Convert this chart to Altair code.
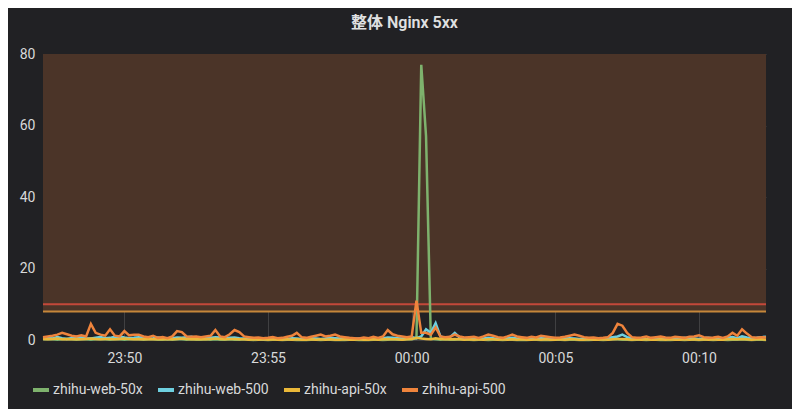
import altair as alt
import pandas as pd

series_names = ["zhihu-web-50x", "zhihu-web-500", "zhihu-api-50x", "zhihu-api-500"]
series_colors = ["#7eb26d", "#6ed0e0", "#eab839", "#ef843c"]

# samples every 10 s starting 23:47:10
web_50x = [
    0.2, 0.3, 0.2, 0.1, 0.2, 0.3, 0.2, 0.1, 0.2, 0.2,
    0.1, 0.2, 0.3, 0.2, 0.1, 0.2, 0.2, 0.1, 0.2, 0.3,
    0.2, 0.1, 0.2, 0.2, 0.1, 0.1, 0.2, 0.1, 0.2, 0.2,
    0.1, 0.2, 0.1, 0.1, 0.2, 0.1, 0.2, 0.1, 0.1, 0.2,
    0.1, 0.1, 0.2, 0.1, 0.0, 0.1, 0.1, 0.0, 0.1, 0.1,
    0.0, 0.1, 0.1, 0.0, 0.1, 0.0, 0.1, 0.1, 0.0, 0.1,
    0.1, 0.0, 0.1, 0.0, 0.1, 0.1, 0.0, 0.1, 0.0, 0.1,
    0.1, 0.0, 0.1, 0.2, 0.1, 0.1, 0.2, 0.2, 0.5, 77.0,
    57.0, 0.3, 0.2, 0.1, 0.2, 0.1, 0.1, 0.2, 0.1, 0.1,
    0.0, 0.1, 0.1, 0.0, 0.1, 0.1, 0.0, 0.1, 0.1, 0.0,
    0.1, 0.0, 0.1, 0.1, 0.0, 0.1, 0.0, 0.1, 0.1, 0.0,
    0.1, 0.1, 0.0, 0.1, 0.0, 0.1, 0.1, 0.0, 0.1, 0.2,
    0.2, 0.1, 0.1, 0.0, 0.1, 0.1, 0.0, 0.1, 0.1, 0.0,
    0.1, 0.0, 0.1, 0.1, 0.0, 0.1, 0.1, 0.0, 0.1, 0.1,
    0.0, 0.1, 0.1, 0.0, 0.1, 0.1, 0.2, 0.1, 0.0, 0.1,
    0.1, 0.0,
]

web_500 = [
    0.5, 0.6, 0.4, 0.8, 0.5, 0.3, 0.6, 0.9, 0.7, 0.5,
    0.4, 0.6, 0.8, 0.5, 0.6, 0.9, 1.0, 0.7, 0.5, 0.6,
    0.8, 0.6, 0.4, 0.5, 0.7, 0.5, 0.3, 0.5, 0.7, 0.6,
    0.8, 0.9, 0.6, 0.4, 0.5, 0.6, 0.8, 0.7, 0.5, 0.6,
    0.7, 0.5, 0.4, 0.3, 0.4, 0.3, 0.2, 0.3, 0.4, 0.3,
    0.2, 0.3, 0.5, 0.4, 0.3, 0.4, 0.5, 0.4, 0.3, 0.4,
    0.6, 0.5, 0.4, 0.3, 0.2, 0.3, 0.4, 0.3, 0.5, 0.4,
    0.3, 0.5, 0.7, 0.6, 0.5, 0.4, 0.6, 0.8, 0.5, 1.0,
    3.0, 2.0, 4.7, 1.0, 0.6, 0.8, 2.0, 0.7, 0.5, 0.4,
    0.3, 0.5, 0.4, 0.6, 0.5, 0.3, 0.4, 0.5, 0.6, 0.4,
    0.3, 0.2, 0.3, 0.4, 0.5, 0.4, 0.3, 0.2, 0.3, 0.4,
    0.5, 0.4, 0.3, 0.4, 0.3, 0.2, 0.3, 0.4, 0.6, 0.8,
    1.0, 1.5, 0.8, 0.5, 0.3, 0.4, 0.3, 0.5, 0.4, 0.3,
    0.4, 0.5, 0.3, 0.4, 0.6, 0.5, 0.4, 0.3, 0.5, 0.6,
    0.4, 0.3, 0.5, 0.6, 0.8, 0.5, 1.0, 0.7, 0.5, 0.6,
    0.8, 0.9,
]

api_50x = [
    0.3, 0.2, 0.3, 0.4, 0.2, 0.3, 0.2, 0.3, 0.2, 0.3,
    0.4, 0.3, 0.2, 0.3, 0.3, 0.2, 0.3, 0.4, 0.3, 0.2,
    0.3, 0.2, 0.3, 0.2, 0.2, 0.3, 0.2, 0.2, 0.3, 0.4,
    0.3, 0.2, 0.3, 0.2, 0.2, 0.3, 0.4, 0.3, 0.2, 0.3,
    0.3, 0.2, 0.2, 0.1, 0.2, 0.1, 0.2, 0.1, 0.2, 0.1,
    0.1, 0.2, 0.1, 0.2, 0.1, 0.1, 0.2, 0.1, 0.2, 0.1,
    0.2, 0.1, 0.1, 0.2, 0.1, 0.1, 0.2, 0.1, 0.1, 0.2,
    0.1, 0.2, 0.3, 0.2, 0.2, 0.1, 0.2, 0.3, 0.6, 0.4,
    0.3, 0.2, 0.5, 0.3, 0.2, 0.2, 0.3, 0.2, 0.1, 0.2,
    0.1, 0.2, 0.1, 0.2, 0.2, 0.1, 0.2, 0.1, 0.2, 0.1,
    0.2, 0.1, 0.1, 0.2, 0.1, 0.2, 0.1, 0.1, 0.2, 0.1,
    0.2, 0.2, 0.1, 0.1, 0.2, 0.1, 0.1, 0.2, 0.1, 0.2,
    0.3, 0.3, 0.2, 0.1, 0.2, 0.1, 0.2, 0.1, 0.1, 0.2,
    0.1, 0.2, 0.1, 0.1, 0.2, 0.1, 0.2, 0.1, 0.2, 0.1,
    0.2, 0.1, 0.1, 0.2, 0.3, 0.2, 0.3, 0.2, 0.1, 0.2,
    0.2, 0.1,
]

api_500 = [
    0.8, 1.0, 1.2, 1.5, 2.0, 1.6, 1.2, 1.0, 1.3, 1.0,
    4.5, 2.0, 1.5, 1.2, 3.0, 1.2, 1.0, 2.5, 1.3, 1.5,
    1.5, 1.0, 0.8, 1.2, 0.6, 0.8, 0.5, 1.0, 2.5, 2.2,
    1.0, 0.9, 1.0, 0.8, 1.0, 1.2, 2.8, 1.0, 0.8, 1.6,
    2.8, 2.2, 1.0, 0.8, 0.6, 0.7, 0.5, 0.6, 0.8, 0.5,
    0.6, 0.9, 1.2, 2.0, 0.8, 0.6, 0.9, 1.2, 1.5, 1.0,
    1.2, 1.5, 1.0, 0.8, 0.6, 0.5, 0.4, 0.7, 0.5, 0.9,
    0.6, 1.0, 2.8, 1.6, 1.2, 1.0, 0.8, 1.0, 11.0, 2.0,
    2.0, 1.5, 3.5, 1.0, 0.8, 0.9, 1.5, 1.0, 0.7, 0.8,
    0.9, 0.6, 1.0, 1.5, 1.2, 0.8, 0.6, 1.0, 1.5, 1.0,
    0.8, 0.6, 0.9, 0.7, 1.2, 1.0, 0.8, 0.6, 0.7, 0.9,
    1.2, 1.5, 1.2, 0.8, 0.6, 0.7, 0.5, 0.6, 0.8, 2.0,
    4.5, 4.0, 2.0, 0.8, 0.6, 0.7, 1.0, 0.6, 0.8, 1.0,
    0.7, 0.6, 0.9, 0.8, 0.6, 0.9, 1.0, 1.3, 0.8, 0.6,
    0.7, 0.9, 0.6, 1.0, 2.0, 1.2, 3.0, 1.8, 0.8, 0.6,
    0.8, 0.7,
]

thresholds = [10, 8]
threshold_colors = ["#c4483a", "#c6873a"]
band_range = [8, 80]
y_ticks = [0, 20, 40, 60, 80]
x_tick_times = ["23:50", "23:55", "00:00", "00:05", "00:10"]

start = pd.Timestamp("2018-03-01 23:47:10")
all_series = [web_50x, web_500, api_50x, api_500]
rows = []
for name, vals in zip(series_names, all_series):
    for i, v in enumerate(vals):
        rows.append({"time": start + pd.Timedelta(seconds=10 * i), "series": name, "value": v})
df = pd.DataFrame(rows)


def dt(hhmm, seconds=0):
    h, m = map(int, hhmm.split(":"))
    day = 1 if h >= 12 else 2
    return alt.DateTime(year=2018, month=3, date=day, hours=h, minutes=m, seconds=seconds)


x_scale = alt.Scale(domain=[dt("23:47", 10), dt("00:12", 20)])
y_scale = alt.Scale(domain=[0, 80], nice=False)
FONT = "Roboto, 'Noto Sans CJK SC', sans-serif"

band = alt.Chart(pd.DataFrame({"lo": [band_range[0]], "hi": [band_range[1]]})).mark_rect(
    color="#4b3428"
).encode(
    x=alt.value(0), x2=alt.value(723),
    y=alt.Y("lo:Q", scale=y_scale, title=None), y2="hi:Q",
)

rules = alt.Chart(pd.DataFrame({"t": thresholds, "c": threshold_colors})).mark_rule(
    strokeWidth=2
).encode(
    y=alt.Y("t:Q", scale=y_scale, title=None),
    color=alt.Color("c:N", scale=None),
)

lines = alt.Chart(df).mark_line(strokeWidth=2.5).encode(
    x=alt.X("time:T", scale=x_scale, title=None,
            axis=alt.Axis(values=[dt(t) for t in x_tick_times], format="%H:%M",
                          labelPadding=11)),
    y=alt.Y("value:Q", scale=y_scale, title=None,
            axis=alt.Axis(values=y_ticks, labelPadding=8)),
    color=alt.Color("series:N",
                    scale=alt.Scale(domain=series_names, range=series_colors),
                    sort=series_names,
                    legend=alt.Legend(orient="none", legendX=-12, legendY=326,
                                      direction="horizontal", title=None,
                                      symbolType="stroke", symbolSize=256,
                                      symbolStrokeWidth=4, labelFontSize=14,
                                      labelColor="#d8d9da", labelFont=FONT,
                                      columnPadding=7, labelOffset=2)),
    order=alt.Order("time:T"),
)

chart = alt.layer(band, rules, lines).properties(
    width=723,
    height=286,
    title=alt.TitleParams("整体 Nginx 5xx", fontSize=16, color="#e0e1e2", font=FONT,
                          fontWeight=600, anchor="middle", offset=16),
    autosize=alt.AutoSizeParams(type="none"),
    padding={"left": 35, "top": 46, "right": 26, "bottom": 69},
    background="#212124",
).configure_view(stroke=None).configure_axis(
    grid=True, gridColor="#ffffff", gridOpacity=0.14, ticks=False, domain=False,
    labelColor="#d8d9da", labelFontSize=14, labelFont=FONT, zindex=1,
)

chart.save("out.html", embed_options={"renderer": "svg", "actions": False})
